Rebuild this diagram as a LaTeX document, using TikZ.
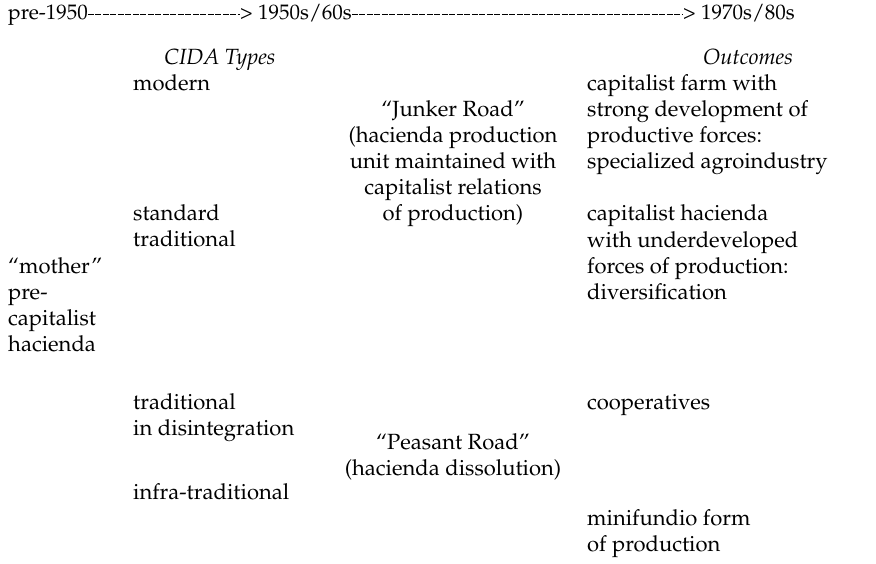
\documentclass[tikz,border=0pt]{standalone}
\usepackage[T1]{fontenc}
\renewcommand{\rmdefault}{ppl}
\begin{document}
\begin{tikzpicture}[x=1pt,y=1pt,
  txt/.style={anchor=base west,inner sep=0pt,align=left,font=\fontsize{22}{26}\selectfont},
  ctr/.style={anchor=base,inner sep=0pt,align=center,font=\fontsize{22}{26}\selectfont},
  head/.style={anchor=base,inner sep=0pt,font=\fontsize{22}{26}\itshape},
  top/.style={anchor=base west,inner sep=0pt,font=\fontsize{21}{26}\selectfont},
  hyph/.style={line width=1.1pt,dash pattern=on 5.6pt off 1.9pt}]
\fill[white] (0,0) rectangle (876,-564);
\useasboundingbox (0,0) rectangle (876,-564);
% time line
\node[top] (pre) at (8,-20) {pre-1950};
\node[top] (mid) at (240,-20) {>~1950s/60s};
\node[top] (end) at (683,-20) {>~1970s/80s};
\draw[hyph] ([yshift=5.6pt]pre.base east) -- ([yshift=5.6pt]mid.base west);
\draw[hyph] ([yshift=5.6pt]mid.base east) -- ([yshift=5.6pt]end.base west);
% headings
\node[head] (cida) at (220,-65) {CIDA Types};
\node[head] (outc) at (748,-65) {Outcomes};
% columns
\node[txt] (modern) at (133,-91) {modern};
\node[txt] (farm) at (587,-169) {capitalist farm with\\strong development of\\productive forces:\\specialized agroindustry};
\node[ctr] (junker) at (453,-221) {``Junker Road''\\(hacienda production\\unit maintained with\\capitalist relations\\of production)};
\node[txt] (standard) at (133,-247) {standard\\traditional};
\node[txt] (hacienda) at (587,-299) {capitalist hacienda\\with underdeveloped\\forces of production:\\diversification};
\node[txt] (mother) at (8,-351) {``mother''\\pre-\\capitalist\\hacienda};
\node[txt] (disint) at (133,-435) {traditional\\in disintegration};
\node[txt] (coop) at (587,-409) {cooperatives};
\node[ctr] (peasant) at (453,-475) {``Peasant Road''\\(hacienda dissolution)};
\node[txt] (infra) at (133,-499) {infra-traditional};
\node[txt] (mini) at (587,-551) {minifundio form\\of production};
\end{tikzpicture}
\end{document}
